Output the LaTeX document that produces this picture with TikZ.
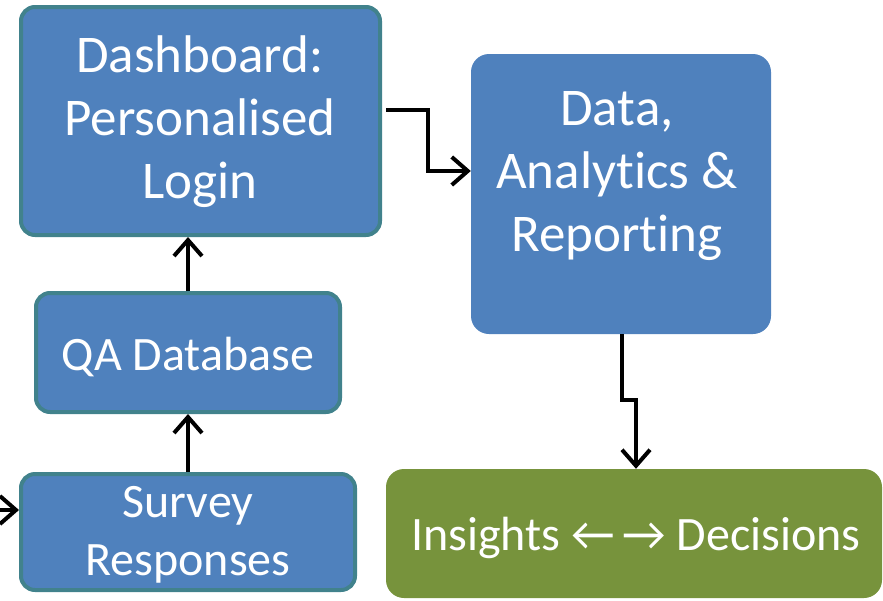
\documentclass[tikz,border=0pt]{standalone}
\usepackage{fontspec}
\setmainfont{Carlito}[Ligatures=NoCommon]
\usetikzlibrary{arrows.meta}
\definecolor{boxblue}{RGB}{79,129,189}
\definecolor{boxteal}{RGB}{65,130,140}
\definecolor{boxgreen}{RGB}{119,147,60}
\tikzset{
  bluebox/.style={rectangle, rounded corners=14pt, fill=boxblue, draw=boxteal, line width=4pt, inner sep=0pt},
  plainbox/.style={rectangle, rounded corners=18pt, fill=#1, inner sep=0pt},
  boxtext/.style={text=white, align=center, inner sep=0pt},
  conn/.style={draw=black, line width=4pt, -{Straight Barb[length=16pt,width=28pt]}},
}
\begin{document}
\begin{tikzpicture}[x=1pt,y=-1pt]
\useasboundingbox (0,0) rectangle (883,600);
% boxes
\node[bluebox, minimum width=359pt, minimum height=228pt] (dash) at (200.5,121) {};
\node[bluebox, minimum width=304pt, minimum height=119pt] (qa) at (188,352.5) {};
\node[bluebox, minimum width=334pt, minimum height=116pt] (survey) at (188,532) {};
\node[plainbox=boxblue, minimum width=300pt, minimum height=280pt] (data) at (621,194) {};
\node[plainbox=boxgreen, minimum width=496pt, minimum height=129pt] (ins) at (634,533.5) {};
% texts
\node[boxtext, font=\fontsize{53}{63}\selectfont] (dasht) at (200,122) {Dashboard:\\Personalised\\Login};
\node[boxtext, font=\fontsize{53}{63}\selectfont] (datat) at (617,176) {Data,\\Analytics \&\\Reporting};
\node[boxtext, font=\fontsize{48}{50}\selectfont] (qat) at (188,357) {QA Database};
\node[boxtext, font=\fontsize{48}{58}\selectfont] (survt) at (188,535) {Survey\\Responses};
\node[boxtext, font=\fontsize{48}{50}\selectfont] (inst) at (636,538) {Insights ←\,→ Decisions};
% connectors
\coordinate (lin) at (-10,510);
\draw[conn] (lin) -- (survey.west |- lin);
\draw[conn] (survey.north) -- (qa.south);
\draw[conn] (qa.north) -- (qa.north |- dash.south);
\coordinate (d1) at (386,110);
\coordinate (d2) at (428,110);
\coordinate (d3) at (428,171);
\draw[conn] (d1) -- (d2) -- (d3) -- (data.west |- d3);
\coordinate (e1) at (622,400);
\coordinate (e2) at (636,400);
\draw[conn] (data.south -| e1) -- (e1) -- (e2) -- (ins.north -| e2);
\end{tikzpicture}
\end{document}
